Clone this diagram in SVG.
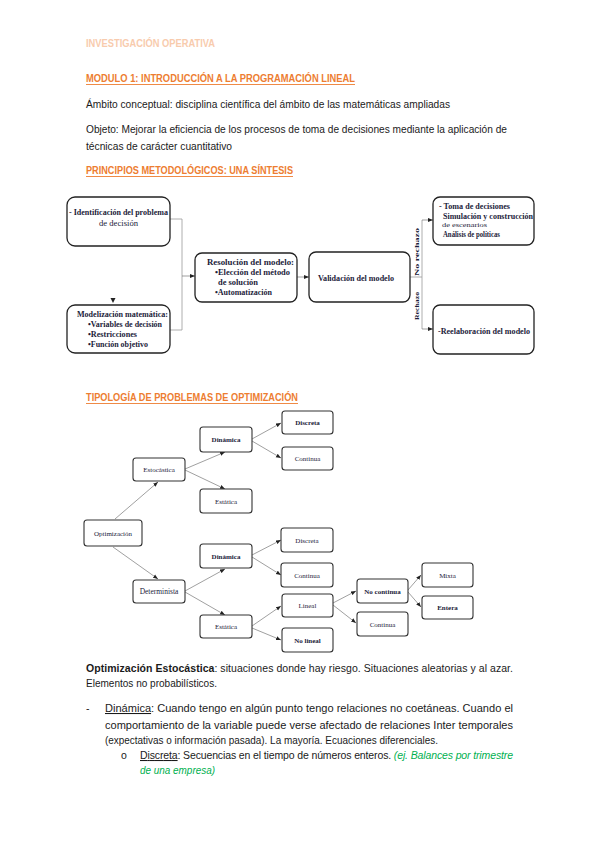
<svg xmlns="http://www.w3.org/2000/svg" width="599" height="848" viewBox="0 0 599 848">
<defs>
<marker id="a" viewBox="0 0 10 10" refX="10" refY="5" markerWidth="5" markerHeight="5" markerUnits="userSpaceOnUse" orient="auto"><path d="M0,1 L10,5 L0,9 z" fill="#222"/></marker>
</defs>
<style>
.body{font-family:"Liberation Sans",Arial,sans-serif;font-size:10.5px;fill:#1a1a1a}
.b{font-weight:bold}
.u{text-decoration:underline}
.hd{font-family:"Liberation Sans",Arial,sans-serif;font-size:10.5px;font-weight:bold;fill:#ED7D31}
.ul{stroke:#ED7D31;stroke-width:0.9}
.grn{fill:#00B050;font-style:italic}
.fb{fill:#fff;stroke:#222;stroke-width:1.3}
.ft{font-family:"Liberation Serif","Times New Roman",serif;font-size:8px;font-weight:bold;fill:#1c1c3a}
.tb{fill:#fff;stroke:#333;stroke-width:1.1}
.tt{font-family:"Liberation Serif","Times New Roman",serif;font-size:7px;fill:#1c1c3a;text-anchor:middle}
.ln{fill:none;stroke:#999;stroke-width:0.8}
.ar{fill:none;stroke:#777;stroke-width:0.7;marker-end:url(#a)}
</style>
<rect width="599" height="848" fill="#fff"/>

<!-- header texts -->
<text x="86" y="47" class="hd" style="fill:#F8CBAD" textLength="129" lengthAdjust="spacingAndGlyphs">INVESTIGACIÓN OPERATIVA</text>
<text x="86" y="82" class="hd" textLength="269" lengthAdjust="spacingAndGlyphs">MODULO 1: INTRODUCCIÓN A LA PROGRAMACIÓN LINEAL</text>
<line x1="86" y1="84.5" x2="355" y2="84.5" class="ul"/>
<text x="86" y="108" class="body" textLength="364" lengthAdjust="spacingAndGlyphs">Ámbito conceptual: disciplina científica del ámbito de las matemáticas ampliadas</text>
<text x="86" y="133" class="body" textLength="421" lengthAdjust="spacingAndGlyphs">Objeto: Mejorar la eficiencia de los procesos de toma de decisiones mediante la aplicación de</text>
<text x="86" y="150" class="body" textLength="146" lengthAdjust="spacingAndGlyphs">técnicas de carácter cuantitativo</text>
<text x="86" y="174" class="hd" textLength="207" lengthAdjust="spacingAndGlyphs">PRINCIPIOS METODOLÓGICOS: UNA SÍNTESIS</text>
<line x1="86" y1="176.5" x2="293" y2="176.5" class="ul"/>

<!-- flowchart connectors -->
<g id="flow-connectors">
<polyline points="170,219 182,219 182,330 170,330" class="ln"/>
<line x1="182" y1="276" x2="195" y2="276" class="ar"/>
<line x1="297" y1="277" x2="309" y2="277" class="ar"/>
<line x1="410" y1="277" x2="422" y2="277" class="ln"/>
<line x1="422" y1="220" x2="422" y2="329" class="ln"/>
<line x1="422" y1="220" x2="433" y2="220" class="ar"/>
<line x1="422" y1="329" x2="433" y2="329" class="ar"/>
<path d="M110.5,298 L115.5,298 L113,303 z" fill="#222"/>
<text transform="translate(419,252) rotate(-90)" class="ft" style="font-size:7px;text-anchor:middle" textLength="48" lengthAdjust="spacingAndGlyphs">No rechazo</text>
<text transform="translate(419,306) rotate(-90)" class="ft" style="font-size:7px;text-anchor:middle" textLength="28" lengthAdjust="spacingAndGlyphs">Rechazo</text>
</g>

<g id="n-identificacion">
<rect x="67" y="197" width="103" height="49" rx="8" class="fb"/>
<text x="69" y="215" class="ft" textLength="99" lengthAdjust="spacingAndGlyphs">- Identificación del problema</text>
<text x="99" y="226" class="ft" style="font-weight:normal" textLength="39" lengthAdjust="spacingAndGlyphs">de decisión</text>
</g>
<g id="n-modelizacion">
<rect x="67" y="305" width="103" height="48" rx="8" class="fb"/>
<text x="77" y="317" class="ft" textLength="91" lengthAdjust="spacingAndGlyphs">Modelización matemática:</text>
<text x="88" y="327" class="ft" textLength="74" lengthAdjust="spacingAndGlyphs">•Variables de decisión</text>
<text x="88" y="337" class="ft" textLength="49" lengthAdjust="spacingAndGlyphs">•Restricciones</text>
<text x="88" y="347" class="ft" textLength="60" lengthAdjust="spacingAndGlyphs">•Función objetivo</text>
</g>
<g id="n-resolucion">
<rect x="195" y="253" width="102" height="49" rx="7" class="fb"/>
<text x="207" y="265" class="ft" textLength="87" lengthAdjust="spacingAndGlyphs">Resolución del modelo:</text>
<text x="215" y="275" class="ft" textLength="75" lengthAdjust="spacingAndGlyphs">•Elección del método</text>
<text x="218" y="285" class="ft" textLength="40" lengthAdjust="spacingAndGlyphs">de solución</text>
<text x="215" y="295" class="ft" textLength="57" lengthAdjust="spacingAndGlyphs">•Automatización</text>
</g>
<g id="n-validacion">
<rect x="309" y="252" width="101" height="50" rx="7" class="fb"/>
<text x="318" y="281" class="ft" textLength="76" lengthAdjust="spacingAndGlyphs">Validación del modelo</text>
</g>
<g id="n-toma">
<rect x="433" y="197" width="101" height="48" rx="7" class="fb"/>
<text x="439" y="209" class="ft" textLength="71" lengthAdjust="spacingAndGlyphs">- Toma de decisiones</text>
<text x="443" y="219" class="ft" textLength="90" lengthAdjust="spacingAndGlyphs">Simulación y construcción</text>
<text x="442" y="227" class="ft" style="font-size:6px;font-weight:normal" textLength="45" lengthAdjust="spacingAndGlyphs">de escenarios</text>
<text x="443" y="237" class="ft" textLength="57" lengthAdjust="spacingAndGlyphs">Análisis de políticas</text>
</g>
<g id="n-reelaboracion">
<rect x="433" y="305" width="101" height="49" rx="7" class="fb"/>
<text x="438" y="334" class="ft" textLength="92" lengthAdjust="spacingAndGlyphs">-Reelaboración del modelo</text>
</g>

<!-- section 2 -->
<text x="86" y="401" class="hd" textLength="212" lengthAdjust="spacingAndGlyphs">TIPOLOGÍA DE PROBLEMAS DE OPTIMIZACIÓN</text>
<line x1="86" y1="403.5" x2="298" y2="403.5" class="ul"/>

<g id="tree-connectors">
<line x1="115" y1="519" x2="158" y2="482" class="ar"/>
<line x1="113" y1="547" x2="158" y2="579" class="ar"/>
<line x1="185" y1="469" x2="225" y2="452" class="ar"/>
<line x1="185" y1="470" x2="225" y2="489" class="ar"/>
<line x1="252" y1="439" x2="281" y2="423" class="ar"/>
<line x1="252" y1="441" x2="281" y2="458" class="ar"/>
<line x1="185" y1="591" x2="225" y2="569" class="ar"/>
<line x1="185" y1="592" x2="225" y2="615" class="ar"/>
<line x1="252" y1="555" x2="281" y2="540" class="ar"/>
<line x1="252" y1="557" x2="281" y2="575" class="ar"/>
<line x1="252" y1="626" x2="281" y2="606" class="ar"/>
<line x1="252" y1="628" x2="281" y2="640" class="ar"/>
<line x1="333" y1="603" x2="356" y2="591" class="ar"/>
<line x1="333" y1="605" x2="356" y2="623" class="ar"/>
<line x1="408" y1="590" x2="421" y2="575" class="ar"/>
<line x1="408" y1="592" x2="421" y2="607" class="ar"/>
</g>

<g id="t-optimizacion"><rect x="84" y="520" width="58" height="26" rx="3" class="tb"/><text x="113" y="535.5" class="tt">Optimización</text></g>
<g id="t-estocastica"><rect x="133" y="458" width="52" height="23" rx="3" class="tb"/><text x="159" y="472" class="tt">Estocástica</text></g>
<g id="t-determinista"><rect x="133" y="580" width="52" height="23" rx="3" class="tb"/><text x="159" y="594" class="tt" style="font-size:7.5px">Determinista</text></g>
<g id="t-dinamica1"><rect x="200" y="427" width="52" height="25" rx="3" class="tb"/><text x="226" y="442" class="tt" style="font-weight:bold">Dinámica</text></g>
<g id="t-estatica1"><rect x="200" y="489" width="52" height="24" rx="3" class="tb"/><text x="226" y="503.5" class="tt">Estática</text></g>
<g id="t-dinamica2"><rect x="200" y="544" width="52" height="24" rx="3" class="tb"/><text x="226" y="558.5" class="tt" style="font-weight:bold">Dinámica</text></g>
<g id="t-estatica2"><rect x="200" y="615" width="52" height="23" rx="3" class="tb"/><text x="226" y="629" class="tt">Estática</text></g>
<g id="t-discreta1"><rect x="282" y="411" width="51" height="23" rx="3" class="tb"/><text x="307.5" y="425" class="tt" style="font-weight:bold">Discreta</text></g>
<g id="t-continua1"><rect x="282" y="447" width="51" height="23" rx="3" class="tb"/><text x="307.5" y="461" class="tt">Continua</text></g>
<g id="t-discreta2"><rect x="281" y="528" width="52" height="24" rx="3" class="tb"/><text x="307" y="542.5" class="tt">Discreta</text></g>
<g id="t-continua2"><rect x="281" y="563" width="52" height="24" rx="3" class="tb"/><text x="307" y="577.5" class="tt">Continua</text></g>
<g id="t-lineal"><rect x="282" y="594" width="51" height="23" rx="3" class="tb"/><text x="307.5" y="608" class="tt">Lineal</text></g>
<g id="t-nolineal"><rect x="282" y="628" width="51" height="24" rx="3" class="tb"/><text x="307.5" y="642.5" class="tt" style="font-weight:bold">No lineal</text></g>
<g id="t-nocontinua"><rect x="357" y="579" width="51" height="24" rx="3" class="tb"/><text x="382.5" y="593.5" class="tt" style="font-weight:bold">No continua</text></g>
<g id="t-continua3"><rect x="357" y="612" width="51" height="24" rx="3" class="tb"/><text x="382.5" y="626.5" class="tt">Continua</text></g>
<g id="t-mixta"><rect x="422" y="563" width="51" height="24" rx="3" class="tb"/><text x="447.5" y="577.5" class="tt">Mixta</text></g>
<g id="t-entera"><rect x="422" y="596" width="51" height="23" rx="3" class="tb"/><text x="447.5" y="610" class="tt" style="font-weight:bold">Entera</text></g>

<!-- bottom text -->
<text x="86" y="672" class="body" textLength="427" lengthAdjust="spacing"><tspan class="b">Optimización Estocástica</tspan>: situaciones donde hay riesgo. Situaciones aleatorias y al azar.</text>
<text x="86" y="687" class="body" textLength="131" lengthAdjust="spacingAndGlyphs">Elementos no probabilísticos.</text>
<text x="86" y="712" class="body">-</text>
<text x="105" y="712" class="body" textLength="408" lengthAdjust="spacingAndGlyphs"><tspan class="u">Dinámica</tspan>: Cuando tengo en algún punto tengo relaciones no coetáneas. Cuando el</text>
<text x="105" y="729" class="body" textLength="408" lengthAdjust="spacingAndGlyphs">comportamiento de la variable puede verse afectado de relaciones Inter temporales</text>
<text x="105" y="744" class="body" textLength="333" lengthAdjust="spacingAndGlyphs">(expectativas o información pasada). La mayoría. Ecuaciones diferenciales.</text>
<text x="121" y="759" class="body">o</text>
<text x="140" y="759" class="body" textLength="373" lengthAdjust="spacing"><tspan class="u">Discreta</tspan>: Secuencias en el tiempo de números enteros. <tspan class="grn">(ej. Balances por trimestre</tspan></text>
<text x="140" y="774" class="body grn" textLength="75" lengthAdjust="spacingAndGlyphs">de una empresa)</text>
</svg>
